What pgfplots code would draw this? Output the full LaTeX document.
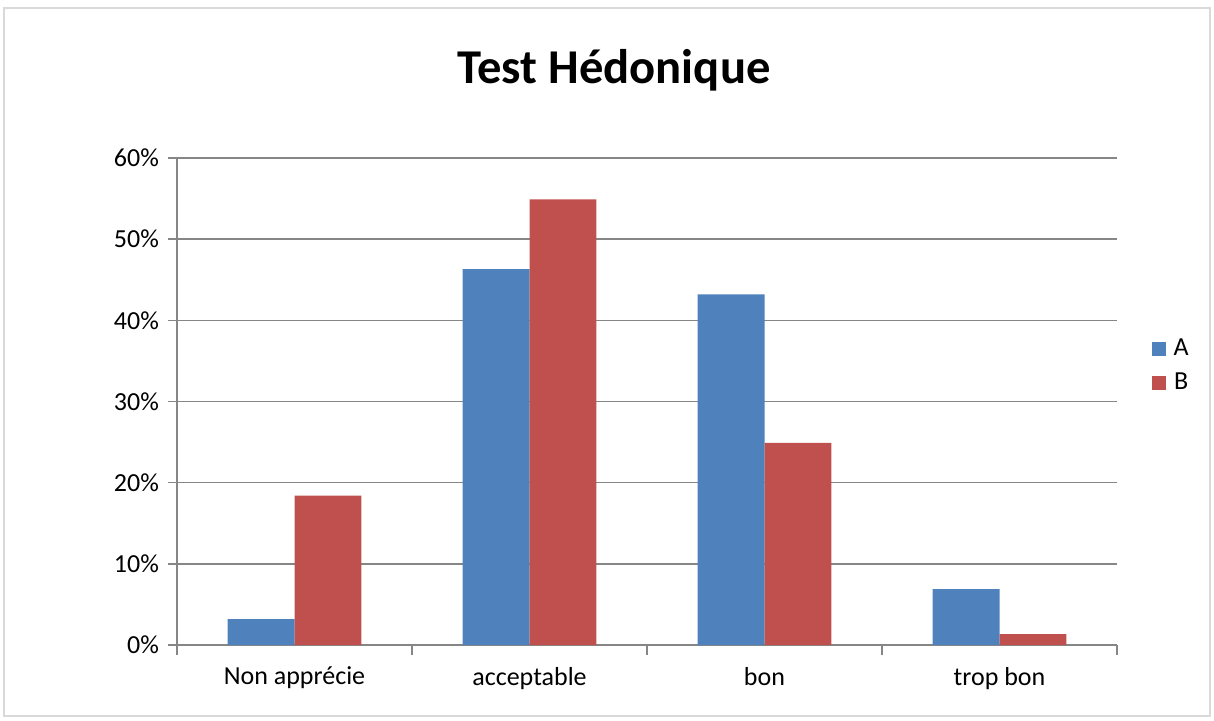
\documentclass[border=0pt]{standalone}
\usepackage{pgfplots}
\pgfplotsset{compat=1.18}
\usepackage{fontspec}
\setmainfont{Carlito}
\definecolor{cA}{HTML}{4F81BD}
\definecolor{cB}{HTML}{C0504D}
\definecolor{gridc}{HTML}{868686}
\begin{document}
\begin{tikzpicture}[x=0.5pt,y=0.5pt]
\path[use as bounding box] (0,0) rectangle (1214,720);
\draw[color=black!15,line width=1pt] (4,4) rectangle (1210,712);
\node[font=\bfseries\fontsize{24.3}{28}\selectfont] at (614,650) {Test Hédonique};
\begin{axis}[
  at={(88.5pt,37.5pt)}, anchor=south west,
  scale only axis, width=470pt, height=243.5pt,
  ybar=0pt, bar width=0.285,
  xmin=-0.5, xmax=3.5, ymin=0, ymax=60,
  xtick={0,1,2,3},
  xticklabels={Non apprécie,acceptable,bon,trop bon},
  major x tick style={draw=none},
  minor xtick={-0.5,0.5,1.5,2.5,3.5},
  minor x tick style={gridc, line width=0.8pt},
  minor tick length=5pt,
  ytick={0,10,20,30,40,50,60},
  yticklabel={\pgfmathprintnumber{\tick}\%},
  ymajorgrids, grid style={gridc, line width=0.8pt},
  major y tick style={gridc, line width=0.8pt},
  major tick length=4.5pt,
  tick align=outside,
  axis x line*=bottom, axis y line*=left,
  axis line style={gridc, line width=0.8pt, -},
  ticklabel style={font=\fontsize{13}{15}\selectfont},
  /pgf/number format/assume math mode=true,
  xticklabel style={yshift=-3pt},
  yticklabel style={xshift=-1pt},
  legend style={at={(1.03,0.573)}, anchor=west, draw=none, fill=none,
    font=\fontsize{13}{15}\selectfont, row sep=3pt,
    nodes={inner xsep=4pt}},
  legend image code/.code={\fill[#1] (0pt,-3.5pt) rectangle (7pt,3.5pt);},
  clip=false,
]
\addplot[fill=cA, draw=none] coordinates {(0,3.2) (1,46.3) (2,43.2) (3,6.9)};
\addplot[fill=cB, draw=none] coordinates {(0,18.4) (1,54.9) (2,24.9) (3,1.35)};
\legend{A,B}
\end{axis}
\end{tikzpicture}
\end{document}
